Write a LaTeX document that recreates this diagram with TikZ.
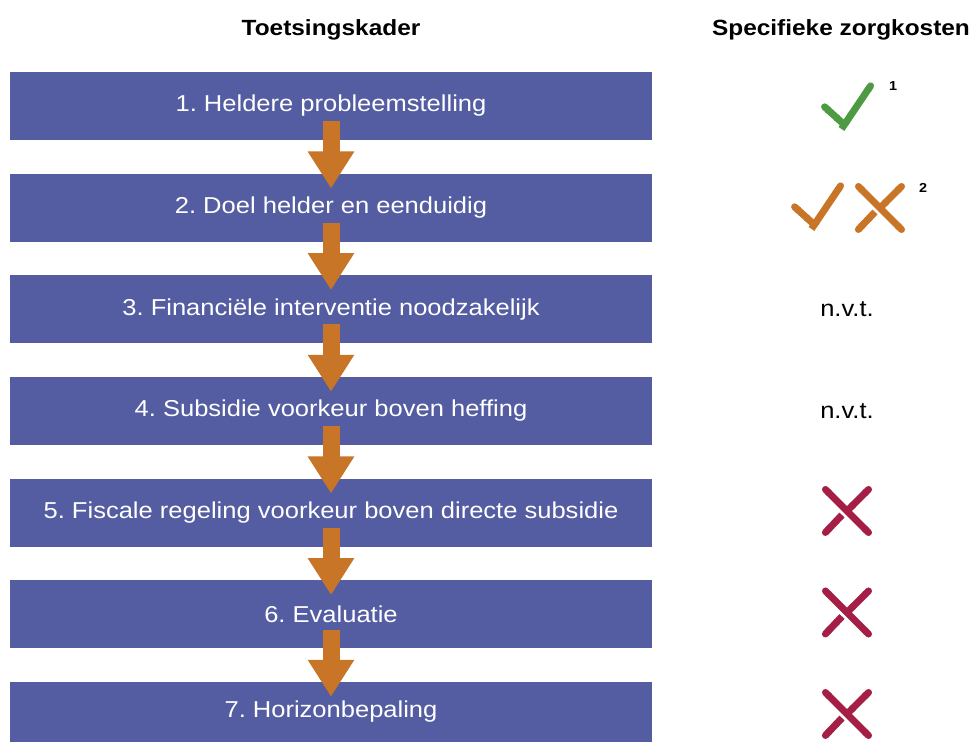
\documentclass[tikz,border=0pt]{standalone}
\usepackage{fontspec}
\setmainfont{Liberation Sans}[FakeStretch=1.11]
\usetikzlibrary{arrows.meta}
\definecolor{boxblue}{HTML}{545DA2}
\definecolor{arrorange}{HTML}{C87528}
\definecolor{markgreen}{HTML}{4E9A42}
\definecolor{markred}{HTML}{A51E45}
\frenchspacing
\tikzset{
  stepbox/.style={fill=boxblue, minimum width=642pt, minimum height=68pt, inner sep=0pt,
    text=white, font=\fontsize{23}{27}\selectfont},
  flowarrow/.style={arrorange, line width=17pt, -{Triangle[length=37pt,width=44pt]}},
  header/.style={font=\fontsize{22}{26}\selectfont\bfseries, inner sep=0pt},
  nvt/.style={font=\fontsize{23}{27}\selectfont, inner sep=0pt},
  sup/.style={font=\fontsize{13}{15}\selectfont\bfseries, inner sep=0pt},
  markline/.style={line width=7pt},
  pics/checkmark/.style={code={
    \draw[markline,#1,{Round Cap[]}-{Butt Cap[]}] (-25,1.5) -- (-4,-17.5);
    \draw[markline,#1,{Butt Cap[]}-{Round Cap[]}] (-5.5,-23) -- (25.5,23);
  }},
  pics/crossmark/.style={code={
    \draw[markline,#1,{Round Cap[]}-{Round Cap[]}] (-24,24) -- (24,-24);
    \draw[markline,#1,{Round Cap[]}-{Butt Cap[]}] (24,24) -- (0,0);
    \draw[markline,#1,{Round Cap[]}-{Butt Cap[]}] (-24,-24) -- (-5,-4);
  }}
}
\begin{document}
\begin{tikzpicture}[x=1pt,y=1pt]
\useasboundingbox (0,0) rectangle (974,742);
% headers
\node[header] (h1) at (331,712) {Toetsingskader};
\node[header] (h2) at (841,712) {Specifieke zorgkosten};
% boxes
\node[stepbox] (b1) at (331,636) {1. Heldere probleemstelling};
\node[stepbox] (b2) at (331,534.3) {2. Doel helder en eenduidig};
\node[stepbox] (b3) at (331,432.7) {3. Financiële interventie noodzakelijk};
\node[stepbox] (b4) at (331,331) {4. Subsidie voorkeur boven heffing};
\node[stepbox] (b5) at (331,229.3) {5. Fiscale regeling voorkeur boven directe subsidie};
\node[stepbox] (b6) at (331,127.7) {6. Evaluatie};
\node[stepbox, minimum height=60pt] (b7) at (331,30) {7. Horizonbepaling};
% arrows
\foreach \a/\b in {b1/b2,b2/b3,b3/b4,b4/b5,b5/b6,b6/b7}
  \draw[flowarrow] ([yshift=19pt]\a.south) -- ([yshift=-15pt]\b.north);
% right column
\pic at (847,636) {checkmark=markgreen};
\node[sup] (s1) at (893,656) {1};
\pic at (817,536) {checkmark=arrorange};
\pic at (880,534) {crossmark=arrorange};
\node[sup] (s2) at (923,554) {2};
\node[nvt] (n3) at (847,432.7) {n.v.t.};
\node[nvt] (n4) at (847,331) {n.v.t.};
\pic at (847,231) {crossmark=markred};
\pic at (847,129.5) {crossmark=markred};
\pic at (847,28) {crossmark=markred};
\end{tikzpicture}
\end{document}
